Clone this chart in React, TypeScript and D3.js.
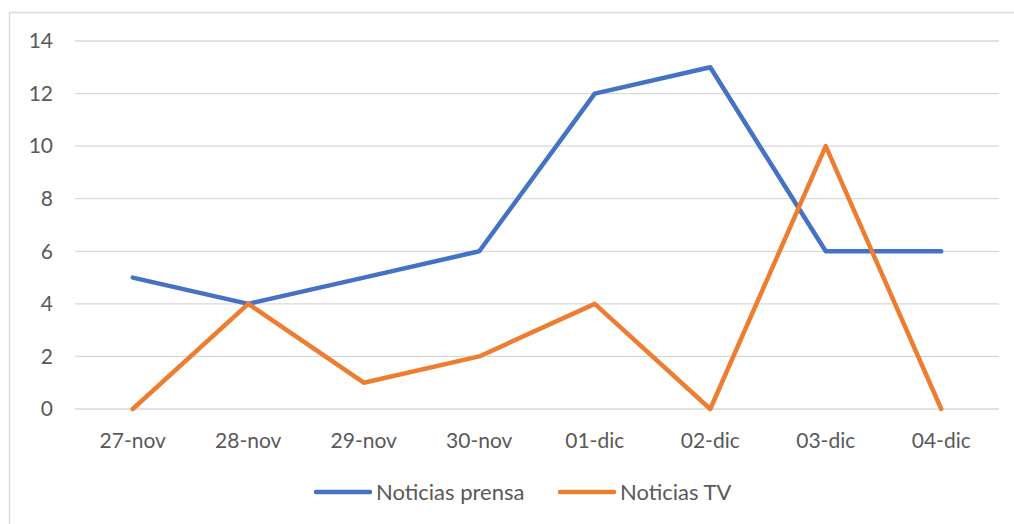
import React, { useEffect, useRef } from 'react';
import * as d3 from 'd3';

const categories = ['27-nov', '28-nov', '29-nov', '30-nov', '01-dic', '02-dic', '03-dic', '04-dic'];
const prensa = [5, 4, 5, 6, 12, 13, 6, 6];
const tv = [0, 4, 1, 2, 4, 0, 10, 0];
const yTicks = [0, 2, 4, 6, 8, 10, 12, 14];

const series = [
  { name: 'Noticias prensa', values: prensa, color: '#4472C4' },
  { name: 'Noticias TV', values: tv, color: '#ED7D31' },
];

const W = 1014;
const H = 524;
const FONT = "Lato, 'Open Sans', sans-serif";
const FS = '21px';

export default function App() {
  const svgRef = useRef<SVGSVGElement>(null);

  useEffect(() => {
    if (!svgRef.current) return;
    const svg = d3.select(svgRef.current);
    svg.selectAll('*').remove();

    // chart frame
    svg.append('rect')
      .attr('x', 9.5).attr('y', 12.5)
      .attr('width', W + 20).attr('height', H + 20)
      .attr('fill', '#fff')
      .attr('stroke', '#d9d9d9')
      .attr('stroke-width', 1.5);

    const left = 75, right = 999, top = 41, bottom = 409;

    const x = d3.scaleBand().domain(categories).range([left, right]);
    const y = d3.scaleLinear().domain([0, 14]).range([bottom, top]);

    // gridlines
    svg.append('g')
      .selectAll('line')
      .data(yTicks)
      .join('line')
      .attr('x1', left).attr('x2', right)
      .attr('y1', d => y(d)).attr('y2', d => y(d))
      .attr('stroke', '#d9d9d9')
      .attr('stroke-width', 1.3);

    // y labels
    svg.append('g')
      .selectAll('text')
      .data(yTicks)
      .join('text')
      .attr('x', 53)
      .attr('y', d => y(d))
      .attr('dy', '0.35em')
      .attr('text-anchor', 'end')
      .attr('fill', '#595959')
      .style('font-family', FONT)
      .style('font-size', FS)
      .text(d => d);

    // x labels
    svg.append('g')
      .selectAll('text')
      .data(categories)
      .join('text')
      .attr('x', d => (x(d) || 0) + x.bandwidth() / 2)
      .attr('y', 441)
      .attr('dy', '0.35em')
      .attr('text-anchor', 'middle')
      .attr('fill', '#595959')
      .style('font-family', FONT)
      .style('font-size', FS)
      .text(d => d);

    const line = d3.line<number>()
      .x((_, i) => (x(categories[i]) || 0) + x.bandwidth() / 2)
      .y(d => y(d));

    series.forEach(s => {
      svg.append('path')
        .datum(s.values)
        .attr('d', line)
        .attr('fill', 'none')
        .attr('stroke', s.color)
        .attr('stroke-width', 4.5)
        .attr('stroke-linejoin', 'round')
        .attr('stroke-linecap', 'round');
    });

    // legend
    const legend = [
      { ...series[0], x0: 316, x1: 370, tx: 376 },
      { ...series[1], x0: 560, x1: 614, tx: 620 },
    ];
    const lg = svg.append('g');
    legend.forEach(l => {
      lg.append('line')
        .attr('x1', l.x0).attr('x2', l.x1)
        .attr('y1', 492).attr('y2', 492)
        .attr('stroke', l.color)
        .attr('stroke-width', 4.5)
        .attr('stroke-linecap', 'round');
      lg.append('text')
        .attr('x', l.tx).attr('y', 492)
        .attr('dy', '0.35em')
        .attr('fill', '#595959')
        .style('font-family', FONT)
        .style('font-size', '22px')
        .text(l.name);
    });
  }, []);

  return (
    <svg
      ref={svgRef}
      width={W}
      height={H}
      style={{ position: 'absolute', left: 0, top: 0, background: '#fff' }}
    />
  );
}
